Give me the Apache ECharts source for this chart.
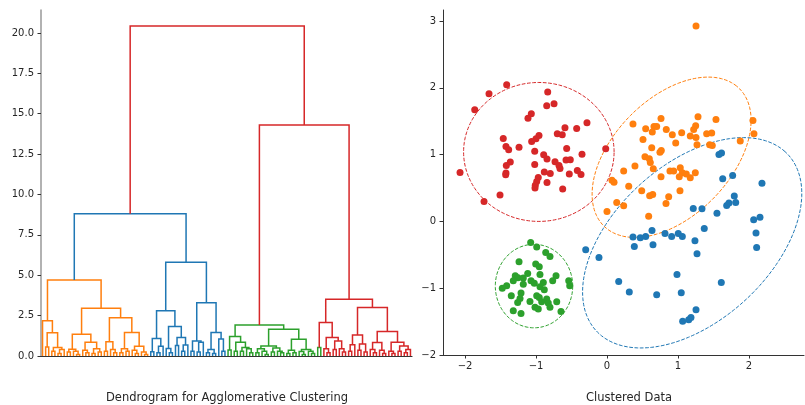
<!DOCTYPE html>
<html><head><meta charset="utf-8">
<script src="https://cdn.jsdelivr.net/npm/echarts@6/dist/echarts.min.js"></script>
<style>html,body{margin:0;padding:0;background:#fff}#c{width:805px;height:405px}</style>
</head><body><div id="c"></div>
<script>
// ---------- Dendrogram data: [height, left, right, colorIndex?]; 0 = leaf ----------
const palette = ['#d62728', '#1f77b4', '#ff7f0e', '#2ca02c'];
const orangeTree = [4.7,
  [2.18, 0, [1.44, [0.55, 0, 0], [0.52, [0.3, 0, 0], [0.4, [0.15, 0, 0], 0]]]],
  [2.95,
    [1.34, [0.42, [0.25, 0, 0], [0.3, 0, [0.1, 0, 0]]], [0.85, [0.35, 0, [0.2, 0, 0]], [0.45, [0.15, 0, 0], [0.25, 0, 0]]]],
    [2.37, [0.88, [0.3, 0, 0], [0.4, 0, [0.2, 0, 0]]],
      [1.46, [0.45, [0.2, 0, 0], [0.3, 0, 0]], [0.6, [0.35, 0, [0.15, 0, 0]], [0.25, 0, [0.1, 0, 0]]]]]],
  2];
const blueTree = [5.8,
  [2.8, [1.09, [0.27, 0, 0], [0.6, [0.2, 0, 0], 0]],
    [1.83, [0.47, 0, [0.2, 0, 0]], [1.15, [0.65, 0, 0], [0.68, [0.3, 0, 0], 0]]]],
  [3.3, [0.93, [0.3, 0, 0], [0.85, [0.25, 0, 0], 0]],
    [1.46, [0.4, [0.2, 0, 0], [0.15, 0, 0]], [1.05, 0, [0.3, 0, 0]]]],
  1];
const greenTree = [1.92,
  [1.2, [0.37, 0, 0], [0.85, [0.3, 0, 0], [0.52, [0.3, 0, 0], [0.45, 0, [0.2, 0, 0]]]]],
  [1.65,
    [0.62, [0.45, [0.2, 0, 0], [0.3, 0, [0.1, 0, 0]]], [0.5, [0.25, 0, 0], [0.3, 0, [0.2, 0, 0]]]],
    [1.03, [0.35, [0.15, 0, 0], [0.2, 0, 0]], [0.4, [0.28, 0, [0.1, 0, 0]], [0.3, 0, [0.15, 0, 0]]]]],
  3];
const redTree = [3.51,
  [2.08, [0.53, 0, 0, 3], [1.15, [0.45, 0, [0.2, 0, 0]], [0.93, [0.4, 0, 0], [0.45, 0, [0.25, 0, 0]]]]],
  [3.0,
    [1.3, [0.7, [0.3, 0, 0], 0], [0.75, [0.35, 0, 0], [0.25, 0, 0]]],
    [1.51, [0.83, [0.4, 0, [0.2, 0, 0]], [0.35, 0, [0.15, 0, 0]]],
      [0.85, [0.3, 0, [0.15, 0, 0]], [0.62, [0.3, 0, 0], [0.4, [0.2, 0, 0], 0]]]]]];
const rootTree = [20.43, [8.8, orangeTree, blueTree, 1], [14.3, greenTree, redTree], 0];
const dendroTicks = [0, 2.5, 5, 7.5, 10, 12.5, 15, 17.5, 20];

// ---------- Scatter data ----------
const redPts = [[-1.413,2.046],[-1.662,1.912],[-1.863,1.672],[-0.835,1.936],[-0.849,1.732],[-0.746,1.762],[-1.066,1.612],[-1.113,1.546],[-0.282,1.478],[-0.427,1.392],[-0.592,1.403],[-1.461,1.243],[-0.700,1.313],[-0.630,1.298],[-0.958,1.287],[-1.0,1.238],[-1.061,1.198],[-0.018,1.088],[-1.423,1.123],[-1.385,1.073],[-1.239,1.112],[-1.018,1.052],[-0.568,1.093],[-0.352,1.007],[-0.892,0.998],[-0.845,0.933],[-0.577,0.918],[-0.517,0.924],[-1.362,0.888],[-1.418,0.838],[-0.732,0.894],[-1.018,0.853],[-0.676,0.838],[-0.662,0.793],[-2.070,0.734],[-1.423,0.723],[-1.427,0.699],[-0.883,0.738],[-0.799,0.719],[-0.531,0.708],[-0.418,0.763],[-0.366,0.704],[-0.968,0.659],[-0.990,0.599],[-0.845,0.584],[-1.010,0.543],[-1.014,0.499],[-0.624,0.484],[-1.507,0.394],[-1.732,0.299]];
const orangePts = [[1.254,2.924],[0.761,1.542],[1.282,1.567],[1.535,1.527],[2.056,1.512],[0.366,1.457],[0.545,1.388],[0.662,1.422],[0.700,1.422],[0.638,1.337],[0.835,1.377],[1.249,1.433],[1.221,1.377],[1.052,1.328],[0.920,1.298],[1.173,1.277],[1.254,1.257],[1.404,1.313],[1.475,1.322],[2.070,1.313],[0.507,1.228],[0.968,1.172],[1.268,1.148],[1.446,1.148],[1.483,1.138],[1.877,1.202],[0.630,1.103],[0.765,1.063],[0.746,1.037],[0.535,0.969],[0.596,0.939],[0.610,0.883],[0.652,0.789],[0.394,0.828],[0.235,0.753],[0.887,0.753],[0.939,0.753],[1.032,0.804],[1.061,0.729],[1.117,0.708],[1.173,0.654],[1.244,0.729],[1.018,0.669],[0.761,0.669],[0.070,0.618],[0.099,0.588],[0.306,0.528],[0.489,0.460],[0.601,0.385],[0.644,0.404],[1.028,0.460],[0.869,0.370],[0.137,0.284],[0.235,0.235],[0.831,0.269],[0.0,0.150],[0.587,0.079]];
const bluePts = [[1.630,0.639],[1.770,0.689],[2.183,0.573],[1.793,0.379],[1.686,0.240],[1.718,0.274],[1.813,0.284],[1.215,0.195],[1.338,0.190],[1.549,0.124],[2.066,0.025],[2.155,0.064],[2.099,-0.175],[2.108,-0.389],[1.370,-0.105],[0.634,-0.135],[0.817,-0.180],[0.911,-0.225],[1.004,-0.180],[1.061,-0.225],[0.366,-0.235],[0.469,-0.244],[0.545,-0.225],[0.385,-0.374],[0.648,-0.349],[1.239,-0.289],[1.268,-0.484],[-0.300,-0.424],[-0.113,-0.539],[0.986,-0.793],[1.610,-0.913],[0.165,-0.898],[0.314,-1.058],[0.700,-1.097],[1.046,-1.067],[1.254,-1.322],[1.066,-1.493],[1.151,-1.472],[1.183,-1.437],[1.577,1.003],[1.613,1.025]];
const greenPts = [[-1.075,-0.314],[-0.990,-0.385],[-0.863,-0.464],[-0.803,-0.524],[-1.239,-0.603],[-1.004,-0.639],[-0.954,-0.678],[-1.117,-0.778],[-0.944,-0.793],[-0.718,-0.813],[-1.292,-0.813],[-1.254,-0.843],[-1.179,-0.849],[-1.320,-0.888],[-1.070,-0.888],[-1.024,-0.924],[-0.897,-0.913],[-0.765,-0.888],[-0.539,-0.888],[-1.179,-0.939],[-1.413,-0.963],[-1.475,-0.999],[-0.883,-1.022],[-0.525,-0.963],[-0.944,-0.978],[-1.211,-1.073],[-1.348,-1.112],[-0.990,-1.112],[-0.954,-1.138],[-1.225,-1.153],[-0.849,-1.163],[-1.258,-1.213],[-1.085,-1.198],[-0.920,-1.202],[-0.827,-1.223],[-0.708,-1.202],[-1.014,-1.287],[-0.968,-1.313],[-0.803,-1.287],[-1.320,-1.337],[-1.211,-1.377],[-0.648,-1.347]];
// ellipses: [cx, cy, semiAxisA, semiAxisB, angleDeg, colorIndex]
const ellipses = [[-0.96, 1.04, 1.06, 1.04, 0, 0], [0.91, 0.96, 1.405, 0.849, 49.3, 2], [-1.028, -0.968, 0.545, 0.625, 0, 3], [1.2, -0.32, 1.89, 1.136, 46.2, 1]];
const scatterXTicks = [-2, -1, 0, 1, 2];
const scatterYTicks = [-2, -1, 0, 1, 2, 3];

// ---------- Dendrogram layout ----------
const links = [];
let leafCount = 0;
function layout(node, color) {
  if (node === 0) { const x = leafCount + 0.5; leafCount++; return { x: x, h: 0 }; }
  const c = node[3] !== undefined ? node[3] : color;
  const L = layout(node[1], c), R = layout(node[2], c);
  links.push([L.x, R.x, node[0], L.h, R.h, c]);
  return { x: (L.x + R.x) / 2, h: node[0] };
}
layout(rootTree, 0);
const N = leafCount;

const FONT = 'DejaVu Sans';
const txt = '#262626';
const minus = v => (v < 0 ? '\u2212' : '') + Math.abs(v);

const chart = echarts.init(document.getElementById('c'), null, { renderer: 'canvas' });
chart.setOption({
  animation: false,
  backgroundColor: '#fff',
  grid: [
    { left: 41, top: 10, width: 371, height: 346 },
    { left: 443, top: 10, width: 361, height: 345 }
  ],
  xAxis: [
    { type: 'value', gridIndex: 0, min: 0, max: N,
      axisLine: { show: true, onZero: false, lineStyle: { color: '#333', width: 1.2 } },
      axisTick: { show: false }, axisLabel: { show: false }, splitLine: { show: false } },
    { type: 'value', gridIndex: 1, min: -2.31, max: 2.775,
      axisLine: { show: true, onZero: false, lineStyle: { color: '#333', width: 1 } },
      axisTick: { show: true, length: 3.5, customValues: scatterXTicks, lineStyle: { color: '#333' } },
      axisLabel: { customValues: scatterXTicks, formatter: minus, fontFamily: FONT, fontSize: 10, color: txt, margin: 6 },
      splitLine: { show: false } }
  ],
  yAxis: [
    { type: 'value', gridIndex: 0, min: 0, max: 21.42,
      axisLine: { show: true, onZero: false, lineStyle: { color: '#999', width: 1.5 } },
      axisTick: { show: true, length: 3.5, customValues: dendroTicks, lineStyle: { color: '#333' } },
      axisLabel: { customValues: dendroTicks, formatter: v => v.toFixed(1), fontFamily: FONT, fontSize: 10, color: txt, margin: 7 },
      splitLine: { show: false } },
    { type: 'value', gridIndex: 1, min: -2, max: 3.165,
      axisLine: { show: true, onZero: false, lineStyle: { color: '#333', width: 1 } },
      axisTick: { show: true, length: 3.5, customValues: scatterYTicks, lineStyle: { color: '#333' } },
      axisLabel: { customValues: scatterYTicks, formatter: minus, fontFamily: FONT, fontSize: 10, color: txt, margin: 7 },
      splitLine: { show: false } }
  ],
  series: [
    { type: 'custom', xAxisIndex: 0, yAxisIndex: 0, data: links, clip: false,
      renderItem: function (params, api) {
        const xl = api.value(0), xr = api.value(1), h = api.value(2), hl = api.value(3), hr = api.value(4);
        const pts = [api.coord([xl, hl]), api.coord([xl, h]), api.coord([xr, h]), api.coord([xr, hr])];
        return { type: 'polyline', shape: { points: pts },
          style: { stroke: palette[api.value(5)], lineWidth: 1.5, fill: null } };
      } },
    { type: 'custom', xAxisIndex: 1, yAxisIndex: 1, data: ellipses, clip: false, z: 1,
      renderItem: function (params, api) {
        const cx = api.value(0), cy = api.value(1), a = api.value(2), b = api.value(3);
        const th = api.value(4) * Math.PI / 180;
        const pts = [];
        for (let k = 0; k <= 180; k++) {
          const t = k / 180 * 2 * Math.PI;
          const ex = a * Math.cos(t), ey = b * Math.sin(t);
          pts.push(api.coord([cx + ex * Math.cos(th) - ey * Math.sin(th), cy + ex * Math.sin(th) + ey * Math.cos(th)]));
        }
        return { type: 'polyline', shape: { points: pts },
          style: { stroke: palette[api.value(5)], lineWidth: 1, lineDash: [3.7, 1.6], fill: null } };
      } },
    { type: 'scatter', xAxisIndex: 1, yAxisIndex: 1, data: redPts, symbolSize: 7, z: 3, itemStyle: { color: palette[0], opacity: 1 } },
    { type: 'scatter', xAxisIndex: 1, yAxisIndex: 1, data: orangePts, symbolSize: 7, z: 3, itemStyle: { color: palette[2], opacity: 1 } },
    { type: 'scatter', xAxisIndex: 1, yAxisIndex: 1, data: greenPts, symbolSize: 7, z: 3, itemStyle: { color: palette[3], opacity: 1 } },
    { type: 'scatter', xAxisIndex: 1, yAxisIndex: 1, data: bluePts, symbolSize: 7, z: 3, itemStyle: { color: palette[1], opacity: 1 } }
  ],
  graphic: [
    { type: 'text', x: 227, y: 398, style: { text: 'Dendrogram for Agglomerative Clustering', align: 'center', verticalAlign: 'middle', fontFamily: FONT, fontSize: 11.5, fill: txt } },
    { type: 'text', x: 629, y: 398, style: { text: 'Clustered Data', align: 'center', verticalAlign: 'middle', fontFamily: FONT, fontSize: 11.5, fill: txt } }
  ]
});
</script>
</body></html>
